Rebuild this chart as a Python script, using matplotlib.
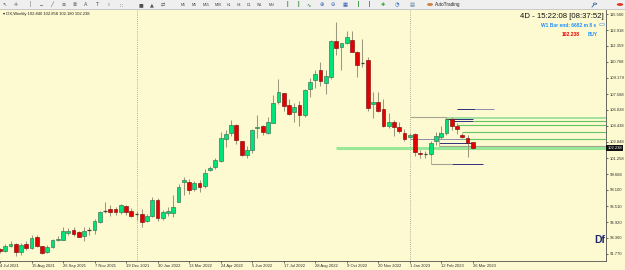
import matplotlib
matplotlib.use("Agg")
import matplotlib.pyplot as plt
import numpy as np
from matplotlib.patches import Rectangle, Circle
from matplotlib.lines import Line2D

plt.rcParams['font.family'] = ['Liberation Sans', 'DejaVu Sans']

# ---------------- data (weekly DX candles, 4 Jul 2021 .. 26 Mar 2023) ----------------
opens = [92.26, 92.03, 92.52, 92.78, 91.99, 92.78, 92.39, 93.42, 92.52, 91.99,
         92.45, 93.10, 93.15, 93.84, 94.10, 93.90, 93.55, 94.05, 94.13, 94.96,
         95.97, 96.20, 96.20, 95.90, 96.50, 96.05, 95.70, 95.69, 95.05, 95.55,
         97.13, 95.30, 95.80, 95.85, 96.94, 98.85, 98.85, 98.15, 98.75, 98.50,
         100.07, 100.40, 101.00, 103.10, 103.70, 104.50, 102.90, 101.60, 102.05, 104.20,
         104.40, 103.70, 104.75, 106.80, 107.66, 106.50, 105.80, 106.47, 105.48, 108.05,
         108.97, 109.96, 108.70, 109.24, 112.86, 112.20, 112.66, 112.93, 111.70, 110.60,
         110.95, 106.60, 106.80, 106.10, 104.40, 104.80, 104.30, 103.70, 103.37, 103.60,
         101.78, 101.66, 101.65, 102.90, 103.37, 103.70, 105.10, 104.40, 103.50, 103.27,
         102.840]
closes = [92.03, 92.56, 92.78, 91.93, 92.66, 92.39, 93.35, 92.52, 91.86, 92.49,
          93.10, 93.20, 94.00, 94.00, 93.77, 93.48, 94.00, 94.10, 95.03, 95.95,
          96.00, 95.95, 95.90, 96.58, 95.90, 95.55, 95.72, 94.96, 95.50, 97.10,
          95.35, 95.90, 96.00, 96.40, 98.40, 99.10, 98.10, 98.75, 98.42, 99.80,
          100.24, 101.06, 103.20, 103.60, 104.50, 103.00, 101.60, 102.10, 104.03, 104.36,
          103.80, 104.85, 106.67, 107.80, 106.40, 105.60, 106.30, 105.48, 108.00, 108.75,
          109.57, 108.90, 109.37, 112.83, 112.10, 112.60, 113.20, 111.77, 110.50, 110.62,
          106.20, 106.80, 105.90, 104.45, 104.80, 104.35, 103.90, 103.10, 103.57, 101.90,
          101.68, 101.65, 102.70, 103.40, 103.70, 105.10, 104.40, 104.10, 103.37, 102.70,
          102.238]
highs = [92.40, 92.75, 93.05, 92.90, 92.85, 93.05, 93.64, 93.60, 92.60, 92.65,
         93.20, 93.50, 94.46, 94.37, 94.40, 94.07, 94.40, 94.40, 95.20, 96.00,
         96.94, 96.60, 96.40, 96.70, 96.60, 96.30, 96.00, 96.20, 95.70, 97.43,
         97.30, 96.10, 96.40, 97.60, 98.70, 99.40, 99.20, 99.00, 99.10, 100.20,
         100.50, 101.30, 103.86, 104.00, 105.00, 104.60, 102.90, 102.40, 104.10, 105.50,
         104.55, 105.30, 107.49, 109.10, 107.70, 107.10, 106.70, 106.90, 108.10, 109.15,
         109.97, 110.80, 109.97, 112.95, 114.74, 112.65, 113.85, 113.85, 111.80, 113.03,
         111.30, 107.80, 107.80, 107.10, 105.70, 105.00, 104.80, 104.10, 103.70, 103.70,
         102.05, 102.00, 102.90, 103.80, 104.40, 105.30, 105.35, 104.70, 103.70, 103.50,
         102.858]
lows = [91.90, 91.95, 92.43, 91.60, 91.70, 92.20, 92.30, 92.45, 91.76, 91.90,
        92.35, 93.00, 93.10, 93.60, 93.50, 93.40, 93.00, 93.60, 93.70, 94.80,
        95.80, 95.50, 95.60, 95.70, 95.65, 95.40, 95.10, 94.47, 94.90, 95.40,
        95.00, 95.10, 95.50, 95.40, 96.90, 97.60, 97.70, 98.00, 97.90, 98.30,
        100.00, 100.20, 100.90, 102.30, 103.40, 102.60, 101.45, 101.30, 101.80, 103.20,
        103.50, 103.60, 104.70, 106.60, 105.90, 105.50, 104.80, 104.40, 105.30, 107.30,
        108.15, 108.40, 107.60, 109.10, 111.40, 110.00, 112.50, 111.70, 109.30, 110.30,
        105.90, 105.20, 105.80, 104.30, 104.20, 103.40, 103.70, 102.90, 103.20, 101.50,
        101.23, 101.30, 101.45, 102.50, 103.10, 103.50, 104.00, 103.60, 103.20, 101.40,
        102.180]

date_labels = ["4 Jul 2021", "15 Aug 2021", "26 Sep 2021", "7 Nov 2021", "19 Dec 2021",
               "30 Jan 2022", "13 Mar 2022", "24 Apr 2022", "5 Jun 2022", "17 Jul 2022",
               "28 Aug 2022", "9 Oct 2022", "20 Nov 2022", "1 Jan 2023", "12 Feb 2023",
               "26 Mar 2023"]
date_label_bars = list(range(0, 91, 6))
year_sep_bars = [26, 78]

price_ticks = [115.500, 113.918, 112.359, 110.768, 109.179, 107.588, 106.028, 104.438,
               102.848, 101.258, 99.668, 98.100, 96.510, 94.920, 93.360, 91.770]
last_price = 102.238

# drawn horizontal levels (price, from bar, to bar; None = right edge, kind)
level_price = [106.10, 106.10, 105.27, 105.17, 105.07, 104.92, 104.92, 104.50,
               103.82, 103.17, 103.10, 102.70, 102.47, 102.24, 100.64, 100.64]
level_from = [87, 90.5, 78, 85, 85, 86, 90, 87, 88, 78, 88, 83.5, 83.5, 63.9, 82, 86]
level_to = [90.5, 94, 85, None, 90, 90, None, None, None, 88, None, 90, None, None, 86, 92]
level_kind = ["navy", "grayblue", "gray", "ltgreen", "navy", "navy", "green", "green",
              "green", "grayblue", "green", "navy", "gray", "band", "gray", "navy"]

# ---------------- figure ----------------
W, H = 625, 270
bg = '#FDF9D0'
fig = plt.figure(figsize=(W / 100, H / 100), dpi=100, facecolor=bg)
ax = fig.add_axes([0, 9 / H, 606 / W, 251 / H])
ax.set_facecolor(bg)

px_per_bar = 5.265
x0_px = -1.4
xmin = (0 - x0_px) / px_per_bar
xmax = (606 - x0_px) / px_per_bar
ax.set_xlim(xmin, xmax)
ax.set_ylim(91.07, 115.90)

o = np.array(opens); c = np.array(closes); h = np.array(highs); l = np.array(lows)
x = np.arange(len(o))

# year separators
for b in year_sep_bars:
    ax.axvline(b, color='#9a9a8a', lw=0.6, ls=(0, (1, 1.5)), zorder=1)

# levels
kind_style = {
    "navy": dict(color='#2f2f7e', lw=0.7),
    "grayblue": dict(color='#8c8cb0', lw=0.7),
    "gray": dict(color='#a3a396', lw=0.8),
    "ltgreen": dict(color='#9ae09a', lw=1.3),
    "green": dict(color='#62c462', lw=0.8),
    "band": dict(color='#98e898', lw=2.2),
}
for p, f, t, k in zip(level_price, level_from, level_to, level_kind):
    t = xmax if t is None else t
    ax.hlines(p, f, t, zorder=1.5, **kind_style[k])
# small connector verticals
ax.vlines([82, 83.5], [100.64, 102.47], [101.5, 103.85], color='#a3a396', lw=0.6, zorder=1.5)

# candles
wick_col = '#9c977f'
ax.vlines(x, l, h, color=wick_col, lw=0.75, zorder=2)
bw = 0.72
body_lo = np.minimum(o, c)
body_h = np.abs(c - o)
is_doji = body_h < 0.06
up = (c >= o) & ~is_doji
dn = (c < o) & ~is_doji
ax.bar(x[up], body_h[up], bottom=body_lo[up], width=bw, color='#00E27A',
       edgecolor='#3d6e4e', linewidth=0.45, zorder=3)
ax.bar(x[dn], body_h[dn], bottom=body_lo[dn], width=bw, color='#E40000',
       edgecolor='#7a1010', linewidth=0.45, zorder=3)
ax.hlines(c[is_doji], x[is_doji] - bw / 2, x[is_doji] + bw / 2, color='#404035', lw=0.9, zorder=3)

# axes styling
for s in ['left', 'top']:
    ax.spines[s].set_visible(False)
for s in ['right', 'bottom']:
    ax.spines[s].set_color('#505050')
    ax.spines[s].set_linewidth(0.6)

ax.yaxis.tick_right()
ax.set_yticks(price_ticks)
ax.set_yticklabels([f"{v:.3f}" for v in price_ticks])
ax.tick_params(axis='y', length=1.5, width=0.5, pad=1, labelsize=3.0, colors='#303030')
ax.set_xticks(date_label_bars)
ax.set_xticklabels(date_labels)
ax.tick_params(axis='x', length=1.5, width=0.5, pad=1, labelsize=3.0, colors='#303030')
for lab in ax.get_xticklabels():
    lab.set_horizontalalignment('left')

# current price box
ax.text(1.0 + 1.5 / 606, last_price, f"{last_price:.3f}", transform=ax.get_yaxis_transform(),
        ha='left', va='center', fontsize=3.0, color='white', zorder=5, clip_on=False,
        bbox=dict(boxstyle='square,pad=0.25', fc='#101010', ec='none'))

# ---------------- overlay texts ----------------
def fx(px):
    return px / W

def fy(py):
    return 1 - py / H

fig.text(fx(3), fy(14), "\u25be DX,Weekly 102.840 102.858 102.180 102.238", fontsize=3.0,
         color='#202020', va='center', ha='left')
fig.text(fx(604), fy(16), "4D - 15:22:08 [08:37:52]", fontsize=5.6, color='#101010',
         va='center', ha='right')
fig.text(fx(596), fy(25.5), "W1 Bar end: 6682 m 8 s", fontsize=3.5, color='#1E90FF',
         fontweight='bold', va='center', ha='right')
fig.text(fx(580), fy(34), "102.238", fontsize=3.6, color='#F00000', fontweight='bold',
         va='center', ha='right')
fig.text(fx(588), fy(34), "BUY", fontsize=3.4, color='#1E90FF', fontweight='bold',
         va='center', ha='left')
fig.patches.append(Circle((fx(602), fy(24.5)), 2.8 / W, transform=fig.transFigure,
                          fill=False, ec='#7ab8f0', lw=0.5))
fig.text(fx(605), fy(240), "Df", fontsize=7.5, color='#1a2a6c', fontweight='bold',
         va='center', ha='right')

# ---------------- toolbar ----------------
fig.patches.append(Rectangle((0, fy(9)), 1, 9 / H, transform=fig.transFigure,
                             fc='#EFEFEF', ec='none', zorder=0))
fig.patches.append(Rectangle((0, fy(10)), 1, 1 / H, transform=fig.transFigure,
                             fc='#C8C8C8', ec='none', zorder=0))
icons = ["\u2196", "\u271b", "\u2502", "\u2500", "\u2571", "\u2261", "\u2263", "A", "T",
         "\u2240", "\u2237", "\u25a0", "\u25b2", "\u21c4"]
icon_x = [4, 16, 30, 41, 52, 64, 75, 86, 97, 108, 121, 141, 152, 163]
for ic, xi in zip(icons, icon_x):
    fig.text(fx(xi), fy(4.5), ic, fontsize=3.6, color='#505050', va='center', ha='center',
             family=['DejaVu Sans'])
tfs = ["M1", "M5", "M15", "M30", "H1", "H4", "D1", "W1", "MN"]
tf_x = [183, 194, 206, 218, 229, 239, 249, 260, 272]
for t, xi in zip(tfs, tf_x):
    fig.text(fx(xi), fy(4.5), t, fontsize=2.6, color='#404040', va='center', ha='center')
icons2 = ["\u2551", "\u2551", "\u223f", "\u2295", "\u2296", "\u25a6", "\u2503", "\u2503",
          "\u271a", "\u25d4", "\u25a4"]
icon2_x = [287, 298, 309, 322, 333, 345, 358, 369, 383, 397, 412]
icon2_c = ['#2a8a2a', '#2a8a2a', '#2a8a2a', '#2f5fb0', '#2f5fb0', '#2f5fb0', '#2a8a2a',
           '#2a8a2a', '#2aa02a', '#2f6fc0', '#6080a0']
for ic, xi, cc in zip(icons2, icon2_x, icon2_c):
    fig.text(fx(xi), fy(4.5), ic, fontsize=3.8, color=cc, va='center', ha='center',
             family=['DejaVu Sans'])
fig.patches.append(Circle((fx(430), fy(4.5)), 2.6 / W, transform=fig.transFigure,
                          fc='#e08a30', ec='#a05010', lw=0.3))
fig.text(fx(435), fy(4.5), "AutoTrading", fontsize=3.3, color='#202020', va='center', ha='left')
# search (magnifier) icon drawn as a shape
fig.patches.append(Circle((fx(595), fy(3.8)), 1.8 / W, transform=fig.transFigure,
                          fill=False, ec='#3060a0', lw=0.5))
fig.lines.append(Line2D([fx(593.6), fx(592)], [fy(5.2), fy(7)], transform=fig.transFigure,
                        color='#3060a0', lw=0.6))
fig.patches.append(Circle((fx(620), fy(4.5)), 3.2 / W, transform=fig.transFigure,
                          fc='#e03020', ec='none'))

fig.savefig("out.png", dpi=100, facecolor=bg)
